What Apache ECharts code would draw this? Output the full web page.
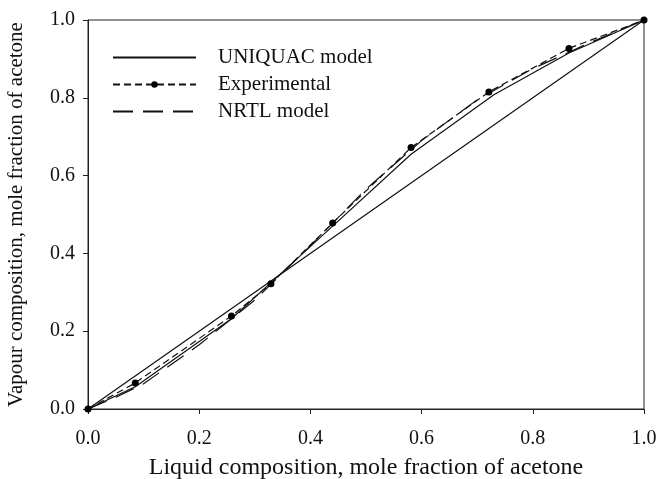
<!DOCTYPE html>
<html>
<head>
<meta charset="utf-8">
<script src="https://cdn.jsdelivr.net/npm/echarts@6/dist/echarts.min.js"></script>
<style>
  html, body { margin: 0; padding: 0; background: #fff; }
  #chart { width: 658px; height: 479px; }
</style>
</head>
<body>
<div id="chart"></div>
<script>
// experimental VLE data (acetone)
const expX = [0, 0.085, 0.258, 0.329, 0.44, 0.581, 0.721, 0.865, 1.0];
const expY = [0, 0.067, 0.239, 0.322, 0.478, 0.672, 0.815, 0.927, 1.0];

// UNIQUAC model
const uniX = [0, 0.085, 0.258, 0.329, 0.44, 0.581, 0.73, 0.865, 1.0];
const uniY = [0, 0.057, 0.232, 0.325, 0.47, 0.655, 0.808, 0.915, 1.0];

// NRTL model
const nrtlX = [0, 0.05, 0.1, 0.2, 0.3, 0.4, 0.5, 0.6, 0.7, 0.8, 0.9, 1.0];
const nrtlY = [0, 0.03, 0.065, 0.165, 0.28, 0.42, 0.565, 0.69, 0.795, 0.875, 0.94, 1.0];

// y = x reference
const diagX = [0, 1];
const diagY = [0, 1];

const tickLabels = ['0.0', '0.2', '0.4', '0.6', '0.8', '1.0'];

const zip = (xs, ys) => xs.map((x, i) => [x, ys[i]]);
const FONT = 'Liberation Serif';

const chart = echarts.init(document.getElementById('chart'));

const axisCommon = {
  type: 'value',
  min: 0,
  max: 1,
  interval: 0.2,
  splitLine: { show: false },
  axisLine: { show: true, lineStyle: { color: '#222', width: 1 } },
  axisTick: { show: true, inside: false, length: 5, lineStyle: { color: '#222' } },
  axisLabel: {
    color: '#111',
    fontFamily: FONT,
    fontSize: 20,
    formatter: v => tickLabels[Math.round(v * 5)]
  },
  nameLocation: 'middle'
};

chart.setOption({
  animation: false,
  backgroundColor: '#fff',
  grid: {
    left: 88, right: 14, top: 20, bottom: 70,
    outerBoundsMode: 'none',
    containLabel: false,
    show: true, borderColor: '#222', borderWidth: 1
  },
  legend: {
    orient: 'vertical',
    left: 112,
    top: 47,
    padding: 0,
    itemWidth: 83,
    itemHeight: 8,
    itemGap: 6,
    textStyle: {
      fontFamily: FONT, fontSize: 21, color: '#111',
      lineHeight: 20, padding: [0, 0, 0, 17]
    },
    data: [
      { name: 'UNIQUAC model', itemStyle: { opacity: 0 } },
      { name: 'Experimental' },
      { name: 'NRTL model', itemStyle: { opacity: 0 } }
    ]
  },
  xAxis: {
    ...axisCommon,
    axisLabel: { ...axisCommon.axisLabel, margin: 20 },
    name: 'Liquid composition, mole fraction of acetone',
    nameGap: 47,
    nameTextStyle: { color: '#111', fontFamily: FONT, fontSize: 24 }
  },
  yAxis: {
    ...axisCommon,
    axisLabel: { ...axisCommon.axisLabel, margin: 13 },
    name: 'Vapour composition, mole fraction of acetone',
    nameGap: 61,
    nameTextStyle: { color: '#111', fontFamily: FONT, fontSize: 21 }
  },
  series: [
    {
      name: 'diagonal',
      type: 'line',
      data: zip(diagX, diagY),
      symbol: 'none',
      lineStyle: { color: '#111', width: 1.2 },
      silent: true
    },
    {
      name: 'UNIQUAC model',
      type: 'line',
      data: zip(uniX, uniY),
      symbol: 'none',
      lineStyle: { color: '#111', width: 1.2 }
    },
    {
      name: 'Experimental',
      type: 'line',
      data: zip(expX, expY),
      symbol: 'circle',
      symbolSize: 7,
      itemStyle: { color: '#000' },
      lineStyle: { color: '#111', width: 1.2, type: [7, 4] }
    },
    {
      name: 'NRTL model',
      type: 'line',
      data: zip(nrtlX, nrtlY),
      symbol: 'none',
      lineStyle: { color: '#111', width: 1.2, type: [20, 10] }
    }
  ]
});
</script>
</body>
</html>
